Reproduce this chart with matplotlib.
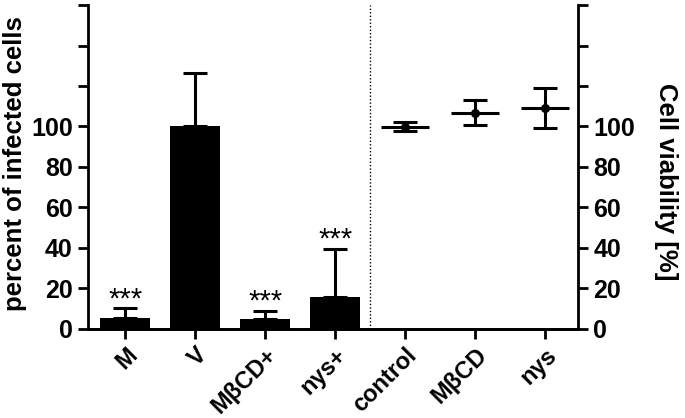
import numpy as np
import matplotlib
matplotlib.use("Agg")
import matplotlib.pyplot as plt

plt.rcParams['font.family'] = ['Liberation Sans', 'DejaVu Sans']
plt.rcParams['font.weight'] = 'bold'

# infection data (left axis)
bar_labels = ["M", "V", "MβCD+", "nys+"]
bar_means = [5.6, 100.0, 5.0, 16.0]
bar_err = [4.7, 26.4, 4.0, 23.6]
bar_stars = ["***", "", "***", "***"]

# viability data (right axis)
via_labels = ["control", "MβCD", "nys"]
via_means = [99.9, 106.9, 109.3]
via_err = [2.2, 6.0, 9.9]

yticks = [0, 20, 40, 60, 80, 100, 120, 140, 160]
ytick_text = ["0", "20", "40", "60", "80", "100", "", "", ""]

fig = plt.figure(figsize=(6.85, 4.18), dpi=100)
ax = fig.add_axes([0.1285, 0.213, 0.7153, 0.775])
ax2 = ax.twinx()

n_bar = len(bar_labels)
xb = np.arange(n_bar)
xv = np.arange(n_bar, n_bar + len(via_labels))

ax.bar(xb, bar_means, width=0.71, color='black', zorder=2)
ax.errorbar(xb, bar_means, yerr=[np.zeros(n_bar), bar_err], fmt='none',
            ecolor='black', elinewidth=2.2, capsize=8.5, capthick=2.2, zorder=3)
for x, m, e, s in zip(xb, bar_means, bar_err, bar_stars):
    if s:
        ax.text(x, m + e - 2.5, s, ha='center', va='bottom', fontsize=21,
                fontweight='normal')

# viability points with mean line
ax2.errorbar(xv, via_means, yerr=via_err, fmt='o', color='black', ms=5.5,
             elinewidth=2.2, capsize=8.5, capthick=2.2, zorder=3)
ax2.hlines(via_means, xv - 0.34, xv + 0.34, color='black', lw=2.2)

ax.axvline(n_bar - 0.5, color='black', lw=1, ls=(0, (1, 1.5)))

for a in (ax, ax2):
    a.set_ylim(0, 160)
    a.set_yticks(yticks)
    a.set_yticklabels(ytick_text)
    a.tick_params(axis='y', width=2, length=7, labelsize=18, pad=4)
    a.spines['top'].set_visible(False)
    for sp in a.spines.values():
        sp.set_linewidth(2)
ax.spines['right'].set_visible(False)
ax2.spines['left'].set_visible(False)

ax.set_xlim(-0.53, 6.47)
ax.set_xticks(list(xb) + list(xv))
ax.set_xticklabels(bar_labels + via_labels, fontsize=17)
ax.tick_params(axis='x', width=2, length=7, labelrotation=45)

ax.set_ylabel("percent of infected cells", fontsize=18.5, fontweight='bold')
ax.yaxis.set_label_coords(-0.1245, 0.512)
ax2.set_ylabel("Cell viability [%]", fontsize=18.5, fontweight='bold',
               rotation=270, va='center')
ax2.yaxis.set_label_coords(1.18, 0.454)

fig.canvas.draw()
for lab in ax.get_xticklabels():
    lab.set_rotation(45)
    lab.set_ha('right')
    lab.set_rotation_mode('anchor')

fig.savefig("out.png", dpi=100)
